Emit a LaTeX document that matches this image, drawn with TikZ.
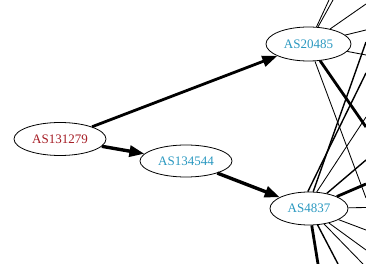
\documentclass[tikz,border=0pt]{standalone}
\usepackage{fontspec}
\setmainfont{Liberation Serif}
\usetikzlibrary{shapes.geometric,arrows.meta}
\definecolor{asred}{RGB}{165,28,36}
\definecolor{asblue}{RGB}{42,152,192}

\begin{document}
\begin{tikzpicture}[x=1pt, y=-1pt, every node/.style={font=\fontsize{13}{15}\selectfont},
  asnode/.style={draw,ellipse,inner sep=0pt,line width=0.8pt,minimum height=33pt},
  link/.style={line width=0.85pt},
  midlink/.style={line width=1.4pt},
  heavylink/.style={line width=2.8pt},
  arrowlink/.style={-{Triangle[length=15pt,width=11pt]},line width=3.4pt}]
  \useasboundingbox (0,0) rectangle (366,264);
  \node[asnode,text=asred,minimum width=92pt] (a131279) at (60,139) {AS131279};
  \node[asnode,text=asblue,minimum width=92pt,minimum height=32pt] (a134544) at (186,161) {AS134544};
  \node[asnode,text=asblue,minimum width=85pt,minimum height=34pt] (a20485) at (308.5,44) {AS20485};
  \node[asnode,text=asblue,minimum width=78pt] (a4837) at (309,208.5) {AS4837};
  % peers outside the visible part
  \coordinate (up1) at (329,0);  \coordinate (up2) at (333,0);
  \coordinate (right1) at (366,4); \coordinate (right2) at (366,30);
  \coordinate (right3) at (366,55); \coordinate (right4) at (366,127);
  \coordinate (right5) at (366,198);
  \coordinate (east1) at (366,42); \coordinate (east2) at (366,73);
  \coordinate (east3) at (366,117); \coordinate (east4) at (366,160);
  \coordinate (east5) at (366,184); \coordinate (east6) at (366,207.5);
  \coordinate (east7) at (366,230); \coordinate (east8) at (366,250);
  \coordinate (down1) at (363,264); \coordinate (down2) at (338,264);
  \coordinate (down3) at (318,264);
  % AS20485 links
  \draw[link] (a20485) -- (up1); \draw[link] (a20485) -- (up2);
  \draw[link] (a20485) -- (right1); \draw[link] (a20485) -- (right2);
  \draw[link] (a20485) -- (right3); \draw[heavylink] (a20485) -- (right4);
  \draw[link] (a20485) -- (right5);
  % AS4837 links
  \draw[midlink] (a4837.76) -- (east1); \draw[midlink] (a4837.94) -- (east2);
  \draw[link] (a4837.65) -- (east3); \draw[midlink] (a4837) -- (east4);
  \draw[heavylink] (a4837) -- (east5); \draw[link] (a4837) -- (east6);
  \draw[link] (a4837) -- (east7); \draw[link] (a4837) -- (east8);
  \draw[link] (a4837) -- (down1); \draw[midlink] (a4837) -- (down2);
  \draw[heavylink] (a4837) -- (down3);
  % upstream path
  \draw[arrowlink,line width=2.8pt] (a131279) -- (a20485);
  \draw[arrowlink] (a131279) -- (a134544);
  \draw[arrowlink] (a134544) -- (a4837);
\end{tikzpicture}
\end{document}
